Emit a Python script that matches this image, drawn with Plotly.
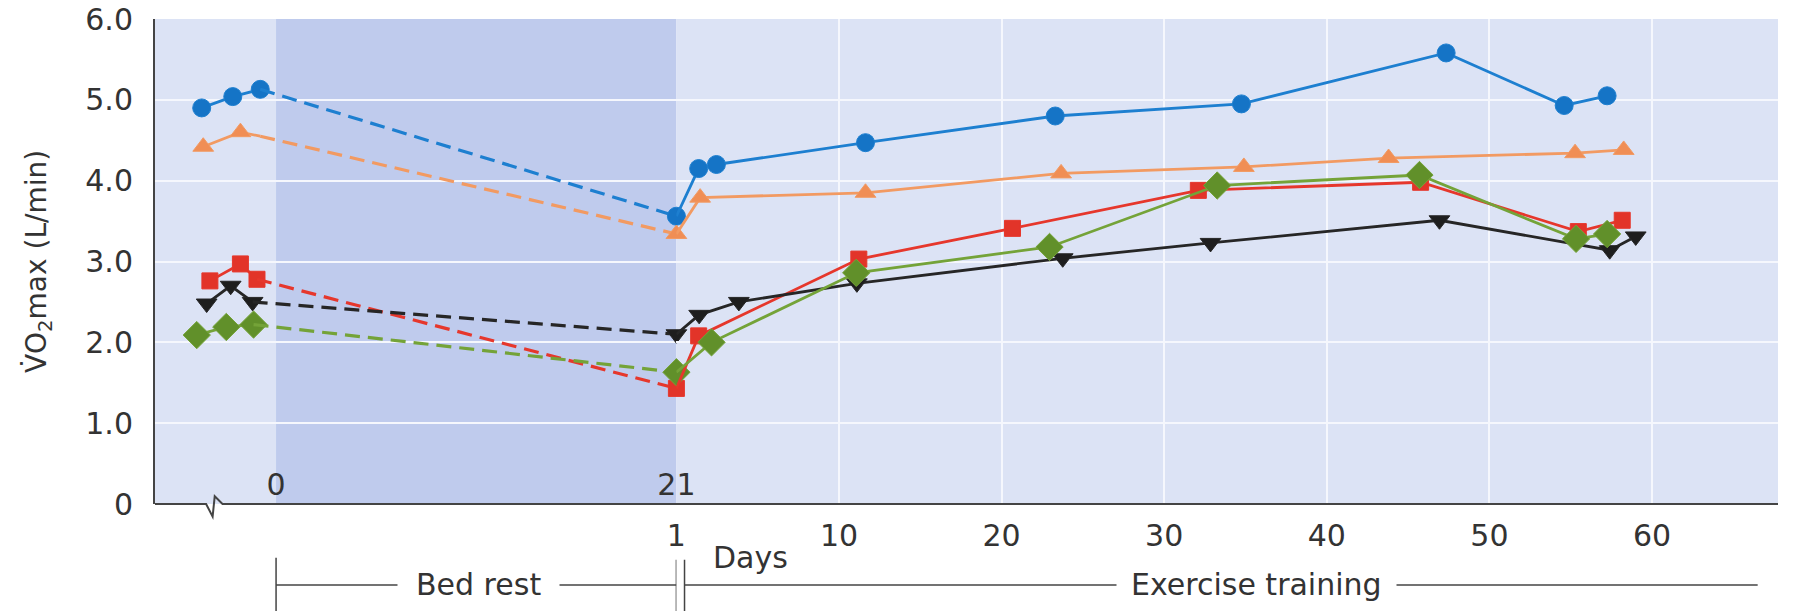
import plotly.graph_objects as go

# ---------------- data ----------------
series_names = ["blue", "orange", "red", "black", "green"]

# pre bed-rest tests (days relative to start of bed rest)
pre_days = {
    "blue":   [-3.90, -2.27, -0.83],
    "orange": [-3.82, -1.87, -0.83],
    "red":    [-3.47, -1.87, -1.00],
    "black":  [-3.64, -2.38, -1.23],
    "green":  [-4.16, -2.61, -1.18],
}
pre_vals = {
    "blue":   [4.90, 5.04, 5.13],
    "orange": [4.42, 4.60, 4.55],
    "red":    [2.76, 2.97, 2.78],
    "black":  [2.48, 2.70, 2.50],
    "green":  [2.09, 2.19, 2.22],
}
pre_marker_shown = {
    "blue": [1, 1, 1], "orange": [1, 1, 0], "red": [1, 1, 1],
    "black": [1, 1, 1], "green": [1, 1, 1],
}
bed_rest_end_day = 21
bed_rest_end_vals = {"blue": 3.56, "orange": 3.34, "red": 1.43, "black": 2.10, "green": 1.63}

# exercise training (days of training)
ex_days = {
    "blue":   [1.37, 2.46, 11.63, 23.3, 34.75, 47.34, 54.6, 57.24],
    "orange": [1.46, 11.63, 23.66, 34.9, 43.8, 55.27, 58.26],
    "red":    [1.37, 11.22, 20.67, 32.1, 45.77, 55.47, 58.17],
    "black":  [1.40, 3.84, 11.1, 23.76, 32.85, 46.93, 57.4, 59.0],
    "green":  [2.16, 11.06, 22.95, 33.26, 45.7, 55.33, 57.24],
}
ex_vals = {
    "blue":   [4.15, 4.20, 4.47, 4.80, 4.95, 5.58, 4.93, 5.05],
    "orange": [3.79, 3.85, 4.09, 4.17, 4.28, 4.34, 4.38],
    "red":    [2.08, 3.03, 3.41, 3.88, 3.98, 3.37, 3.51],
    "black":  [2.34, 2.50, 2.73, 3.04, 3.23, 3.51, 3.14, 3.31],
    "green":  [2.00, 2.86, 3.18, 3.94, 4.07, 3.28, 3.34],
}

y_tick_vals = [0, 1, 2, 3, 4, 5, 6]
y_tick_text = ["0", "1.0", "2.0", "3.0", "4.0", "5.0", "6.0"]
bed_tick_vals = [0, 21]
bed_tick_text = ["0", "21"]
ex_tick_vals = [0, 10, 20, 30, 40, 50, 60]
ex_tick_text = ["1", "10", "20", "30", "40", "50", "60"]

# ---------------- styles ----------------
style = {
    "blue":   dict(symbol="circle", mcolor="#1574c6", lcolor="#1d7fd0", size=18),
    "orange": dict(symbol="triangle-up", mcolor="#f08e55", lcolor="#f29a62", size=18),
    "red":    dict(symbol="square", mcolor="#e23429", lcolor="#e6372c", size=16),
    "black":  dict(symbol="triangle-down", mcolor="#1e1e1e", lcolor="#262626", size=18),
    "green":  dict(symbol="diamond", mcolor="#61902a", lcolor="#74a338", size=21),
}

FONT = "DejaVu Sans"
TXT = "#333333"
PLOT_BG = "#dce3f5"
BED_BG = "#bfcbed"
FS = 30

fig = go.Figure()

for name in series_names:
    s = style[name]
    # pre-bed-rest solid segment
    fig.add_trace(go.Scatter(
        x=pre_days[name], y=pre_vals[name], xaxis="x", yaxis="y",
        mode="lines+markers", cliponaxis=False, showlegend=False,
        line=dict(color=s["lcolor"], width=2.8),
        marker=dict(symbol=s["symbol"], color=s["mcolor"], opacity=1,
                    size=[s["size"] * v for v in pre_marker_shown[name]]),
    ))
    # bed rest dashed segment
    fig.add_trace(go.Scatter(
        x=[pre_days[name][-1], bed_rest_end_day],
        y=[pre_vals[name][-1], bed_rest_end_vals[name]],
        xaxis="x", yaxis="y", mode="lines+markers", cliponaxis=False, showlegend=False,
        line=dict(color=s["lcolor"], width=3.2, dash="15px,8px"),
        marker=dict(symbol=s["symbol"], color=s["mcolor"], opacity=1, size=[0, s["size"]]),
    ))
    # exercise training solid segment (starts from end of bed rest = training day 0)
    fig.add_trace(go.Scatter(
        x=[0] + ex_days[name], y=[bed_rest_end_vals[name]] + ex_vals[name],
        xaxis="x2", yaxis="y", mode="lines+markers", cliponaxis=False, showlegend=False,
        line=dict(color=s["lcolor"], width=2.8),
        marker=dict(symbol=s["symbol"], color=s["mcolor"], opacity=1,
                    size=[0] + [s["size"]] * len(ex_days[name])),
    ))

split = (682.5 - 155) / 1642.0

shapes = [
    # bed rest shading
    dict(type="rect", xref="x", yref="paper", x0=0, x1=bed_rest_end_day, y0=0, y1=1,
         fillcolor=BED_BG, line=dict(width=0), layer="between"),
    # x-axis line with break
    dict(type="path", xref="paper", yref="paper",
         path="M 0 0 L 0.0315 0 L 0.0355 -0.026 L 0.0368 0.016 L 0.0416 0 L 1 0",
         line=dict(color="#444444", width=2)),
    # bed rest bracket
    dict(type="line", xref="x", yref="paper", x0=0, x1=0, y0=-0.111, y1=-0.221,
         line=dict(color="#444444", width=1.5)),
    dict(type="line", xref="x", yref="paper", x0=0, x1=bed_rest_end_day, y0=-0.167, y1=-0.167,
         line=dict(color="#444444", width=1.5)),
    dict(type="line", xref="x", yref="paper", x0=21.0, x1=21.0, y0=-0.115, y1=-0.221,
         line=dict(color="#444444", width=1.5)),
    dict(type="line", xref="x2", yref="paper", x0=0.5, x1=0.5, y0=-0.115, y1=-0.221,
         line=dict(color="#444444", width=1.5)),
    # exercise training line
    dict(type="line", xref="x2", yref="paper", x0=0.5, x1=66.5, y0=-0.167, y1=-0.167,
         line=dict(color="#444444", width=1.5)),
]

annotations = [
    dict(text="Bed rest", xref="x", yref="paper", x=10.6, y=-0.167, showarrow=False,
         font=dict(family=FONT, size=FS, color=TXT), bgcolor="#ffffff", borderpad=18,
         xanchor="center", yanchor="middle"),
    dict(text="Exercise training", xref="x2", yref="paper", x=35.7, y=-0.167, showarrow=False,
         font=dict(family=FONT, size=FS, color=TXT), bgcolor="#ffffff", borderpad=14,
         xanchor="center", yanchor="middle"),
    dict(text="Days", xref="x2", yref="paper", x=2.1, y=-0.111, showarrow=False,
         font=dict(family=FONT, size=FS, color=TXT), xanchor="left", yanchor="middle"),
]

fig.update_layout(
    width=1797, height=611,
    margin=dict(l=155, r=0, t=19, b=107, pad=0),
    paper_bgcolor="#ffffff", plot_bgcolor=PLOT_BG,
    font=dict(family=FONT, color=TXT),
    shapes=shapes, annotations=annotations,
    xaxis=dict(domain=[0, split], range=[-6.35, bed_rest_end_day], showgrid=False,
               zeroline=False, showline=False, tickmode="array",
               tickvals=bed_tick_vals, ticktext=bed_tick_text,
               ticklabelposition="inside", ticklabeloverflow="allow", ticks="",
               tickfont=dict(family=FONT, size=FS, color=TXT), fixedrange=True),
    xaxis2=dict(domain=[split, 1], range=[0, 67.75], anchor="y", showgrid=True,
                gridcolor="#f5f7fd", gridwidth=2, zeroline=False, showline=False,
                tickmode="array", tickvals=ex_tick_vals, ticktext=ex_tick_text,
                ticks="outside", tickcolor="rgba(0,0,0,0)", ticklen=5,
                tickfont=dict(family=FONT, size=FS, color=TXT)),
    yaxis=dict(range=[0, 6], tickmode="array", tickvals=y_tick_vals, ticktext=y_tick_text,
               showgrid=True, gridcolor="#f5f7fd", gridwidth=2, zeroline=False,
               showline=True, linecolor="#444444", linewidth=2,
               ticks="outside", tickcolor="rgba(0,0,0,0)", ticklen=14,
               tickfont=dict(family=FONT, size=FS, color=TXT),
               title=dict(text="V̇O<sub>2</sub>max (L/min)", standoff=30,
                          font=dict(family=FONT, size=28, color=TXT))),
)

fig.write_html("out.html")
